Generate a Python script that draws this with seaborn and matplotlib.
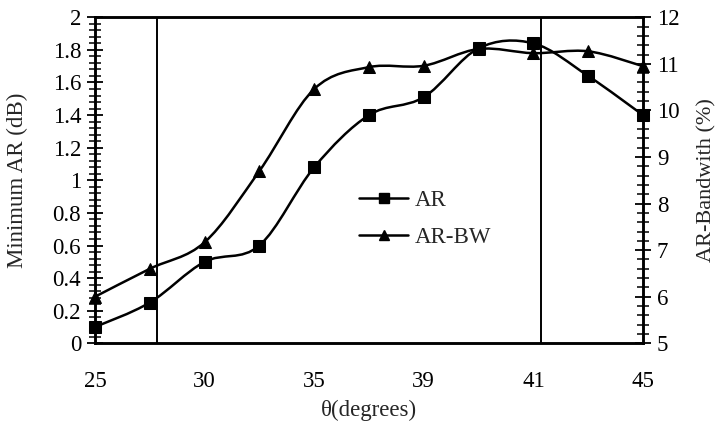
import numpy as np
import pandas as pd
import matplotlib
matplotlib.use("Agg")
import matplotlib.pyplot as plt
from matplotlib.path import Path
from matplotlib.patches import PathPatch
from matplotlib.lines import Line2D
from matplotlib.ticker import MultipleLocator, FixedLocator
import seaborn as sns

# ---- data ----
theta_labels = ["25", "", "30", "", "35", "", "39", "", "41", "", "45"]
ar_db = [0.10, 0.25, 0.50, 0.60, 1.08, 1.40, 1.51, 1.81, 1.84, 1.64, 1.40]
ar_bw = [6.00, 6.60, 7.17, 8.70, 10.46, 10.93, 10.96, 11.32, 11.23, 11.27, 10.95]
left_ticks = [0, 0.2, 0.4, 0.6, 0.8, 1.0, 1.2, 1.4, 1.6, 1.8, 2.0]
left_ticklabels = ["0", "0.2", "0.4", "0.6", "0.8", "1", "1.2", "1.4", "1.6", "1.8", "2"]
right_ticks = [5, 6, 7, 8, 9, 10, 11, 12]
ref_lines = [1.13, 8.14]   # vertical reference lines (category positions)

idx = np.arange(len(ar_db))
df = pd.DataFrame({"pos": idx, "AR": ar_db, "BW": ar_bw})

sns.set_theme(style="white")
plt.rcParams["font.family"] = ["Liberation Serif", "DejaVu Serif"]

fig = plt.figure(figsize=(7.21, 4.21), dpi=100)
ax = fig.add_axes([95/721, 1-343.3/421, (643-95)/721, (343.3-17.3)/421])
ax2 = ax.twinx()


def smooth_path(xs, ys):
    xs = np.asarray(xs, float); ys = np.asarray(ys, float)
    n = len(xs)
    verts = [(xs[0], ys[0])]
    codes = [Path.MOVETO]
    for i in range(n - 1):
        p0 = (xs[max(i-1, 0)], ys[max(i-1, 0)])
        p1 = (xs[i], ys[i])
        p2 = (xs[i+1], ys[i+1])
        p3 = (xs[min(i+2, n-1)], ys[min(i+2, n-1)])
        c1 = (p1[0] + (p2[0]-p0[0])/6, p1[1] + (p2[1]-p0[1])/6)
        c2 = (p2[0] - (p3[0]-p1[0])/6, p2[1] - (p3[1]-p1[1])/6)
        verts += [c1, c2, p2]
        codes += [Path.CURVE4]*3
    return Path(verts, codes)


ax.add_patch(PathPatch(smooth_path(df.pos, df.AR), fill=False, lw=1.8,
                       edgecolor="black", zorder=3))
ax2.add_patch(PathPatch(smooth_path(df.pos, df.BW), fill=False, lw=1.8,
                        edgecolor="black", zorder=3))
sns.lineplot(data=df, x="pos", y="AR", ax=ax, lw=0, marker="s", markersize=8,
             color="black", markeredgecolor="black", zorder=4, clip_on=False)
sns.lineplot(data=df, x="pos", y="BW", ax=ax2, lw=0, marker="^", markersize=8,
             color="black", markeredgecolor="black", zorder=4, clip_on=False)

for xv in ref_lines:
    ax.axvline(xv, color="black", lw=1.4, zorder=2)

ax.set_xlim(0, len(idx)-1)
ax.set_ylim(0, 2)
ax2.set_ylim(5, 12)

ax.xaxis.set_major_locator(FixedLocator(idx))
ax.set_xticklabels(theta_labels)
ax.xaxis.set_minor_locator(MultipleLocator(0.5))
ax.set_yticks(left_ticks)
ax.set_yticklabels(left_ticklabels)
ax.yaxis.set_minor_locator(MultipleLocator(0.04))
ax2.set_yticks(right_ticks)
ax2.yaxis.set_minor_locator(MultipleLocator(0.2))

for a in (ax, ax2):
    for s in a.spines.values():
        s.set_linewidth(1.8)
        s.set_color("black")
    a.tick_params(which="major", direction="inout", length=12, width=1.3,
                  colors="black", labelsize=16.5, pad=4)
    a.tick_params(which="minor", direction="inout", length=8, width=1.1,
                  colors="black")
ax.tick_params(axis="x", which="major", pad=14)
ax2.tick_params(axis="x", which="both", bottom=False, top=False)

ax.set_xlabel("θ(degrees)", fontsize=16.5, va="center", ha="center")
ax.set_ylabel("Minimum AR (dB)", fontsize=16.5, va="center", ha="center")
ax2.set_ylabel("AR-Bandwith (%)", fontsize=16, va="center", ha="center")
ax.xaxis.set_label_coords(0.5, -0.205)
ax.yaxis.set_label_coords(-0.142, 0.5)
ax2.yaxis.set_label_coords(1.116, 0.5)

handles = [Line2D([], [], color="black", lw=1.8, marker="s", markersize=7),
           Line2D([], [], color="black", lw=1.8, marker="^", markersize=7)]
ax.legend(handles, ["AR", "AR-BW"], loc="center left",
          bbox_to_anchor=(0.445, 0.38), frameon=False, fontsize=16.5,
          handlelength=2.1, labelspacing=0.7, handletextpad=0.3)

fig.savefig("out.png", dpi=100)
